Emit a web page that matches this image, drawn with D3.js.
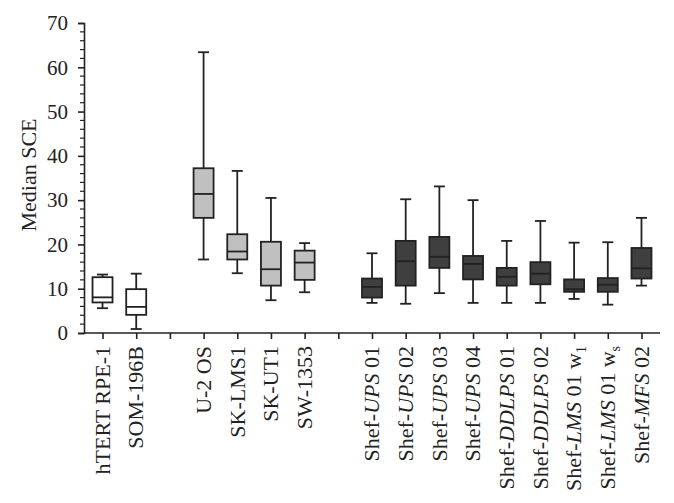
<!DOCTYPE html>
<html><head><meta charset="utf-8">
<script src="https://cdn.jsdelivr.net/npm/d3@7"></script>
<style>
body{margin:0;background:#fff;}
text{font-family:"Liberation Serif","Times New Roman",serif;fill:#222;}
</style></head>
<body><svg id="c" width="674" height="503"></svg>
<script>
// Categories (slot index on the x axis; empty slots separate groups)
const categories = [
  {slot:0, pre:"hTERT RPE-1", it:"", post:"", sub:""},
  {slot:1, pre:"SOM-196B", it:"", post:"", sub:""},
  {slot:3, pre:"U-2 OS", it:"", post:"", sub:""},
  {slot:4, pre:"SK-LMS1", it:"", post:"", sub:""},
  {slot:5, pre:"SK-UT1", it:"", post:"", sub:""},
  {slot:6, pre:"SW-1353", it:"", post:"", sub:""},
  {slot:8, pre:"Shef-", it:"UPS", post:" 01", sub:""},
  {slot:9, pre:"Shef-", it:"UPS", post:" 02", sub:""},
  {slot:10, pre:"Shef-", it:"UPS", post:" 03", sub:""},
  {slot:11, pre:"Shef-", it:"UPS", post:" 04", sub:""},
  {slot:12, pre:"Shef-", it:"DDLPS", post:" 01", sub:""},
  {slot:13, pre:"Shef-", it:"DDLPS", post:" 02", sub:""},
  {slot:14, pre:"Shef-", it:"LMS", post:" 01 w", sub:"1"},
  {slot:15, pre:"Shef-", it:"LMS", post:" 01 w", sub:"s"},
  {slot:16, pre:"Shef-", it:"MFS", post:" 02", sub:""}
];
const groups = ["normal","normal","sarcoma","sarcoma","sarcoma","sarcoma",
  "primary","primary","primary","primary","primary","primary","primary","primary","primary"];
const whiskerLow  = [5.6, 0.9, 16.6, 13.5, 7.4, 9.2, 6.8, 6.6, 9.0, 6.8, 6.8, 6.8, 7.7, 6.4, 10.7];
const q1          = [6.9, 4.1, 26.0, 16.6, 10.7, 12.0, 8.0, 10.7, 14.7, 12.1, 10.7, 11.0, 9.3, 9.3, 12.3];
const median      = [8.05, 5.9, 31.4, 18.4, 14.4, 15.9, 10.4, 16.2, 17.2, 15.6, 12.7, 13.4, 9.9, 10.9, 14.6];
const q3          = [12.6, 9.9, 37.2, 22.3, 20.6, 18.6, 12.3, 20.8, 21.7, 17.4, 14.7, 16.0, 12.1, 12.4, 19.2];
const whiskerHigh = [13.2, 13.4, 63.4, 36.6, 30.5, 20.3, 18.0, 30.2, 33.1, 30.0, 20.8, 25.3, 20.4, 20.5, 26.0];
const yTicks = [0,10,20,30,40,50,60,70];
const slots = d3.range(17);
const fills = {normal:"#ffffff", sarcoma:"#c0c0c0", primary:"#3f3f3f"};

const svg = d3.select("#c");
const x = d3.scalePoint().domain(slots).range([84,660]).padding(0.55);
const y = d3.scaleLinear().domain([0,70]).range([333,23]);

// Y axis
const gy = svg.append("g").attr("transform","translate(84,0)")
  .call(d3.axisLeft(y).tickValues(yTicks).tickSize(6).tickPadding(10).tickFormat(d3.format("d")));
gy.select(".domain").attr("stroke","#222").attr("stroke-width",1.6);
gy.selectAll(".tick line").attr("stroke","#222").attr("stroke-width",1.6);
gy.selectAll(".tick text").style("font-size","21px").style("font-family","Liberation Serif").attr("fill","#222");
// minor ticks
const minors = d3.range(0,70.01,2).filter(v=>v%10!==0);
svg.append("g").selectAll("line").data(minors).join("line")
  .attr("x1",80).attr("x2",84).attr("y1",d=>y(d)).attr("y2",d=>y(d))
  .attr("stroke","#222").attr("stroke-width",1.2);

svg.append("text").attr("transform","translate(28,175) rotate(-90)")
  .attr("text-anchor","middle").attr("dy","0.35em").style("font-size","22px").text("Median SCE");

// X axis
const gx = svg.append("g").attr("transform","translate(0,333)")
  .call(d3.axisBottom(x).tickSize(6).tickFormat(""));
gx.select(".domain").attr("stroke","#222").attr("stroke-width",1.6).attr("d","M84,0H660");
gx.selectAll(".tick line").attr("stroke","#222").attr("stroke-width",1.6);

// X labels
const lab = svg.append("g").selectAll("text").data(categories).join("text")
  .attr("transform",d=>`translate(${x(d.slot)},346) rotate(-90)`)
  .attr("dy","0.33em")
  .attr("text-anchor","end").style("font-size","22px");
lab.append("tspan").text(d=>d.pre);
lab.filter(d=>d.it).append("tspan").style("font-style","italic").text(d=>d.it);
lab.filter(d=>d.post).append("tspan").text(d=>d.post);
lab.filter(d=>d.sub).append("tspan").attr("dy",5).style("font-size","14px").text(d=>d.sub);

// Boxes
const bw = 20, cw = 11;
const data = categories.map((c,i)=>({slot:c.slot, g:groups[i], lo:whiskerLow[i], q1:q1[i], med:median[i], q3:q3[i], hi:whiskerHigh[i]}));
const bx = svg.append("g").selectAll("g").data(data).join("g")
  .attr("stroke","#222").attr("stroke-width",1.8);
bx.append("line").attr("x1",d=>x(d.slot)).attr("x2",d=>x(d.slot))
  .attr("y1",d=>y(d.hi)).attr("y2",d=>y(d.lo));
bx.append("line").attr("x1",d=>x(d.slot)-cw/2).attr("x2",d=>x(d.slot)+cw/2)
  .attr("y1",d=>y(d.hi)).attr("y2",d=>y(d.hi));
bx.append("line").attr("x1",d=>x(d.slot)-cw/2).attr("x2",d=>x(d.slot)+cw/2)
  .attr("y1",d=>y(d.lo)).attr("y2",d=>y(d.lo));
bx.append("rect").attr("x",d=>x(d.slot)-bw/2).attr("width",bw)
  .attr("y",d=>y(d.q3)).attr("height",d=>y(d.q1)-y(d.q3))
  .attr("fill",d=>fills[d.g]);
bx.append("line").attr("x1",d=>x(d.slot)-bw/2).attr("x2",d=>x(d.slot)+bw/2)
  .attr("y1",d=>y(d.med)).attr("y2",d=>y(d.med));
</script></body></html>
